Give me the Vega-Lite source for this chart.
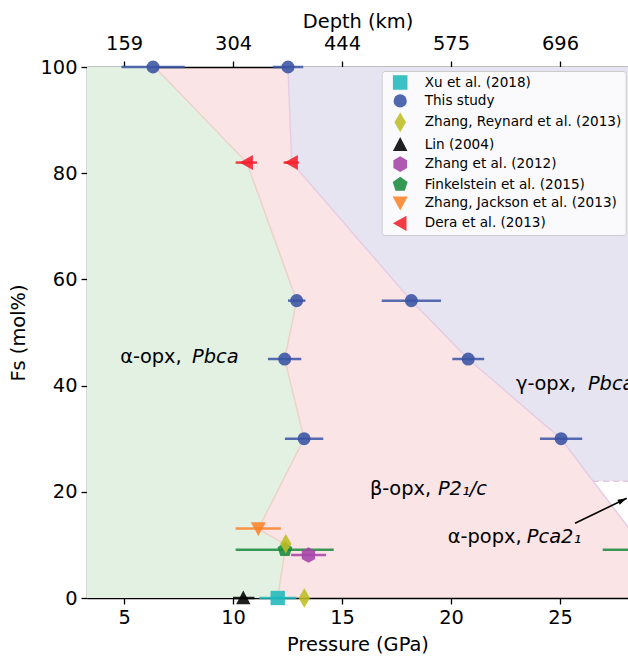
{
  "$schema": "https://vega.github.io/schema/vega-lite/v6.json",
  "width": 541,
  "height": 531,
  "autosize": {"type": "none"},
  "padding": {"left": 87, "top": 67, "right": 0, "bottom": 58},
  "background": "white",
  "config": {
    "view": {"fill": "#fbe4e6", "stroke": null},
    "axis": {
      "domainColor": "#000", "domainWidth": 1.3, "tickColor": "#000", "tickWidth": 1.3, "tickSize": 6,
      "labelFont": "DejaVu Sans", "labelFontSize": 19.4, "labelColor": "#000", "labelPadding": 4,
      "titleFont": "DejaVu Sans", "titleFontSize": 19.4, "titleFontWeight": "normal", "titleColor": "#000",
      "grid": false, "labelFlush": false, "labelOverlap": false
    }
  },
  "datasets": {
    "green": [
      {"Fs": 100, "P": 6.4}, {"Fs": 82, "P": 10.63}, {"Fs": 56, "P": 12.92}, {"Fs": 45, "P": 12.37},
      {"Fs": 30, "P": 13.26}, {"Fs": 13, "P": 11.16}, {"Fs": 10, "P": 12.42}, {"Fs": 0, "P": 12.05}
    ],
    "lav": [
      {"Fs": 100, "P": 12.52}, {"Fs": 82, "P": 12.69}, {"Fs": 56, "P": 18.18}, {"Fs": 45, "P": 20.79},
      {"Fs": 30, "P": 25.05}, {"Fs": 22, "P": 26.52}
    ],
    "lavline": [
      {"Fs": 100, "P": 12.52}, {"Fs": 82, "P": 12.69}, {"Fs": 56, "P": 18.18}, {"Fs": 45, "P": 20.79},
      {"Fs": 30, "P": 25.05}, {"Fs": 22, "P": 26.52}, {"Fs": 0, "P": 30.6}
    ],
    "white": [{"Fs": 22, "P": 26.52}, {"Fs": 0, "P": 30.6}],
    "dash": [{"Fs": 22, "P": 26.52}],
    "pts": [
      {"source": "Xu et al. (2018)", "P": 12.05, "Fs": 0, "lo": 11.2, "hi": 12.9},
      {"source": "This study", "P": 6.33, "Fs": 100, "lo": 4.88, "hi": 7.78},
      {"source": "This study", "P": 12.52, "Fs": 100, "lo": 11.82, "hi": 13.22},
      {"source": "This study", "P": 12.92, "Fs": 56, "lo": 12.52, "hi": 13.32},
      {"source": "This study", "P": 18.18, "Fs": 56, "lo": 16.82, "hi": 19.54},
      {"source": "This study", "P": 12.37, "Fs": 45, "lo": 11.6, "hi": 13.13},
      {"source": "This study", "P": 20.79, "Fs": 45, "lo": 20.06, "hi": 21.52},
      {"source": "This study", "P": 13.26, "Fs": 30, "lo": 12.38, "hi": 14.14},
      {"source": "This study", "P": 25.05, "Fs": 30, "lo": 24.08, "hi": 26.02},
      {"source": "Lin (2004)", "P": 10.47, "Fs": 0, "lo": 10.0, "hi": 10.98},
      {"source": "Finkelstein et al. (2015)", "P": 12.38, "Fs": 9.1, "lo": 10.12, "hi": 14.62},
      {"source": "Finkelstein et al. (2015)", "P": 29.2, "Fs": 9.1, "lo": 26.96, "hi": 31.44},
      {"source": "Zhang et al. (2012)", "P": 13.46, "Fs": 8.1, "lo": 12.66, "hi": 14.27},
      {"source": "Zhang, Reynard et al. (2013)", "P": 12.42, "Fs": 10.2, "lo": 12.42, "hi": 12.42},
      {"source": "Zhang, Reynard et al. (2013)", "P": 13.27, "Fs": 0, "lo": 13.27, "hi": 13.27},
      {"source": "Zhang, Jackson et al. (2013)", "P": 11.16, "Fs": 13.1, "lo": 10.12, "hi": 12.19},
      {"source": "Dera et al. (2013)", "P": 10.63, "Fs": 82, "lo": 10.12, "hi": 11.1},
      {"source": "Dera et al. (2013)", "P": 12.69, "Fs": 82, "lo": 12.32, "hi": 13.02}
    ],
    "lblN": [
      {"P": 4.82, "Fs": 44.3, "t": "α-opx,"},
      {"P": 22.98, "Fs": 39.2, "t": "γ-opx,"},
      {"P": 16.28, "Fs": 19.4, "t": "β-opx,"},
      {"P": 19.85, "Fs": 10.3, "t": "α-popx,"}
    ],
    "lblI": [
      {"P": 8.12, "Fs": 44.3, "t": "Pbca"},
      {"P": 26.28, "Fs": 39.2, "t": "Pbca"},
      {"P": 19.4, "Fs": 19.4, "t": "P2₁/c"},
      {"P": 23.48, "Fs": 10.3, "t": "Pca2₁"}
    ],
    "arrow": [{"P": 25.69, "Fs": 14.07, "Pe": 28.06, "Fse": 18.78}],
    "head": [{"P": 27.85, "Fs": 18.36}]
  },
  "resolve": {"scale": {"x": "shared", "y": "shared"}, "axis": {"x": "independent"}},
  "layer": [
    {
      "data": {"name": "green"},
      "mark": {"type": "area", "orient": "horizontal", "color": "#e3f1e3"},
      "encoding": {
        "x": {"field": "P", "type": "quantitative", "scale": {"domain": [3.3, 28.12], "nice": false, "zero": false},
              "axis": {"orient": "bottom", "title": "Pressure (GPa)", "values": [5, 10, 15, 20, 25], "titlePadding": 9}},
        "x2": {"datum": 3.3},
        "y": {"field": "Fs", "type": "quantitative", "scale": {"domain": [0, 100], "nice": false, "zero": false},
              "axis": {"title": "Fs (mol%)", "values": [0, 20, 40, 60, 80, 100], "titlePadding": 11}}
      }
    },
    {
      "data": {"name": "lav"},
      "mark": {"type": "area", "orient": "horizontal", "color": "#e6e4f1", "clip": true},
      "encoding": {
        "x": {"field": "P", "type": "quantitative",
              "axis": {"orient": "top", "title": "Depth (km)", "values": [5, 10, 15, 20, 25], "labelPadding": 8, "titlePadding": 2,
                       "labelExpr": "datum.value == 5 ? '159' : datum.value == 10 ? '304' : datum.value == 15 ? '444' : datum.value == 20 ? '575' : '696'"}},
        "x2": {"datum": 31},
        "y": {"field": "Fs", "type": "quantitative"}
      }
    },
    {
      "data": {"name": "white"},
      "mark": {"type": "area", "orient": "horizontal", "color": "#ffffff", "clip": true},
      "encoding": {
        "x": {"field": "P", "type": "quantitative", "axis": null},
        "x2": {"datum": 31},
        "y": {"field": "Fs", "type": "quantitative"}
      }
    },
    {
      "data": {"name": "green"},
      "mark": {"type": "line", "color": "#ecd3c9", "strokeWidth": 1.5},
      "encoding": {
        "x": {"field": "P", "type": "quantitative", "axis": null},
        "y": {"field": "Fs", "type": "quantitative"},
        "order": {"field": "Fs", "type": "quantitative"}
      }
    },
    {
      "data": {"name": "lavline"},
      "mark": {"type": "line", "color": "#e6cde2", "strokeWidth": 1.5, "clip": true},
      "encoding": {
        "x": {"field": "P", "type": "quantitative", "axis": null},
        "y": {"field": "Fs", "type": "quantitative"},
        "order": {"field": "Fs", "type": "quantitative"}
      }
    },
    {
      "data": {"name": "dash"},
      "mark": {"type": "rule", "color": "#e2c9e0", "strokeWidth": 1.5, "strokeDash": [6, 4], "clip": true},
      "encoding": {
        "x": {"field": "P", "type": "quantitative", "axis": null},
        "x2": {"datum": 31},
        "y": {"field": "Fs", "type": "quantitative"}
      }
    },
    {
      "data": {"name": "pts"},
      "mark": {"type": "rule", "strokeWidth": 2.5, "opacity": 0.85},
      "encoding": {
        "x": {"field": "lo", "type": "quantitative", "axis": null},
        "x2": {"field": "hi"},
        "y": {"field": "Fs", "type": "quantitative"},
        "stroke": {"field": "source", "type": "nominal", "legend": null,
          "scale": {"domain": ["Dera et al. (2013)", "Finkelstein et al. (2015)", "Lin (2004)", "This study", "Xu et al. (2018)", "Zhang et al. (2012)", "Zhang, Jackson et al. (2013)", "Zhang, Reynard et al. (2013)"],
                    "range": ["#f0202a", "#198a3c", "#000000", "#3953a4", "#1fb8bb", "#a442a8", "#fb8228", "#bcbd22"]}}
      }
    },
    {
      "data": {"name": "pts"},
      "mark": {"type": "point", "filled": true, "size": 170, "opacity": 0.88},
      "encoding": {
        "x": {"field": "P", "type": "quantitative", "axis": null},
        "y": {"field": "Fs", "type": "quantitative"},
        "color": {"field": "source", "type": "nominal",
          "scale": {"domain": ["Xu et al. (2018)", "This study", "Zhang, Reynard et al. (2013)", "Lin (2004)", "Zhang et al. (2012)", "Finkelstein et al. (2015)", "Zhang, Jackson et al. (2013)", "Dera et al. (2013)"],
                    "range": ["#1fb8bb", "#3953a4", "#bcbd22", "#000000", "#a442a8", "#198a3c", "#fb8228", "#f0202a"]},
          "legend": {"orient": "none", "legendX": 294.7, "legendY": 4, "title": null, "padding": 4,
                     "symbolOffset": 7, "labelOffset": 17, "rowPadding": 3.4,
                     "strokeColor": "#cccccc", "fillColor": "rgba(255,255,255,0.8)", "cornerRadius": 3,
                     "labelFont": "DejaVu Sans", "labelFontSize": 13.6, "labelColor": "#000", "symbolSize": 175, "labelLimit": 400}},
        "shape": {"field": "source", "type": "nominal",
          "scale": {"domain": ["Xu et al. (2018)", "This study", "Zhang, Reynard et al. (2013)", "Lin (2004)", "Zhang et al. (2012)", "Finkelstein et al. (2015)", "Zhang, Jackson et al. (2013)", "Dera et al. (2013)"],
                    "range": ["M-1.1,-1.1L1.1,-1.1L1.1,1.1L-1.1,1.1Z", "circle", "M0,-1.5L0.87,0L0,1.5L-0.87,0Z", "M0,-1.15L1.1,0.95L-1.1,0.95Z", "M0,-1.19L1.03,-0.6L1.03,0.6L0,1.19L-1.03,0.6L-1.03,-0.6Z", "M0,-1.19L1.13,-0.37L0.7,0.96L-0.7,0.96L-1.13,-0.37Z", "M-1.15,-0.95L1.15,-0.95L0,1.15Z", "M-1.1,0L0.95,-1.15L0.95,1.15Z"]},
          "legend": {"orient": "none", "legendX": 294.7, "legendY": 4, "title": null, "padding": 4,
                     "symbolOffset": 7, "labelOffset": 17, "rowPadding": 3.4,
                     "strokeColor": "#cccccc", "fillColor": "rgba(255,255,255,0.8)", "cornerRadius": 3,
                     "labelFont": "DejaVu Sans", "labelFontSize": 13.6, "labelColor": "#000", "symbolSize": 175, "labelLimit": 400}}
      }
    },
    {
      "data": {"name": "lblN"},
      "mark": {"type": "text", "font": "DejaVu Sans", "fontSize": 19.4, "align": "left", "baseline": "alphabetic", "color": "#000", "clip": true},
      "encoding": {
        "x": {"field": "P", "type": "quantitative", "axis": null},
        "y": {"field": "Fs", "type": "quantitative"},
        "text": {"field": "t"}
      }
    },
    {
      "data": {"name": "lblI"},
      "mark": {"type": "text", "font": "DejaVu Sans", "fontSize": 19.4, "fontStyle": "italic", "align": "left", "baseline": "alphabetic", "color": "#000", "clip": true},
      "encoding": {
        "x": {"field": "P", "type": "quantitative", "axis": null},
        "y": {"field": "Fs", "type": "quantitative"},
        "text": {"field": "t"}
      }
    },
    {
      "data": {"name": "arrow"},
      "mark": {"type": "rule", "color": "#000", "strokeWidth": 1.6},
      "encoding": {
        "x": {"field": "P", "type": "quantitative", "axis": null},
        "x2": {"field": "Pe"},
        "y": {"field": "Fs", "type": "quantitative"},
        "y2": {"field": "Fse"}
      }
    },
    {
      "data": {"name": "head"},
      "mark": {"type": "point", "filled": true, "color": "#000", "opacity": 1, "size": 100, "angle": 334.2, "shape": "M1,0L-0.8,-0.55L-0.8,0.55Z"},
      "encoding": {
        "x": {"field": "P", "type": "quantitative", "axis": null},
        "y": {"field": "Fs", "type": "quantitative"}
      }
    }
  ]
}
